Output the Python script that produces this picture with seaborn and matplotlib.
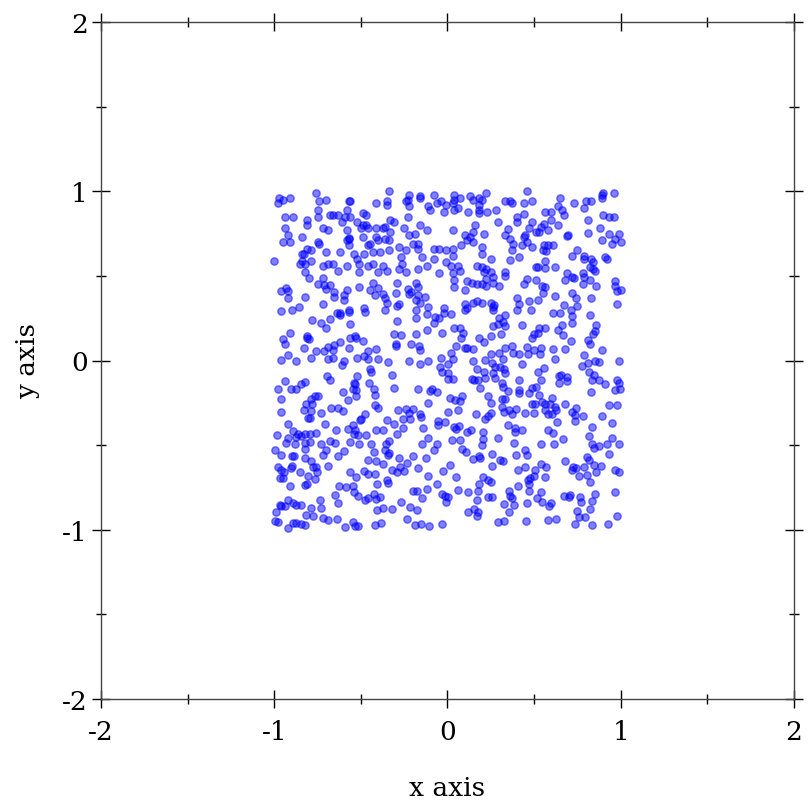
import matplotlib
matplotlib.use("Agg")
import matplotlib.pyplot as plt
import seaborn as sns
import pandas as pd

# point positions, grouped by region (top row -> bottom row)
pts_top_left = [
    (-0.76, 0.99), (-0.34, 1.00), (-0.97, 0.96), (-0.95, 0.95), (-0.91, 0.96), (-0.98, 0.93),
    (-0.74, 0.94), (-0.70, 0.95), (-0.56, 0.94), (-0.57, 0.94), (-0.41, 0.93), (-0.35, 0.94),
    (-0.35, 0.92), (-0.75, 0.89), (-0.58, 0.89), (-0.94, 0.85), (-0.89, 0.85), (-0.75, 0.85),
    (-0.68, 0.86), (-0.66, 0.86), (-0.63, 0.86), (-0.59, 0.85), (-0.56, 0.85), (-0.49, 0.87),
    (-0.47, 0.86), (-0.81, 0.83), (-0.81, 0.80), (-0.61, 0.82), (-0.52, 0.82), (-0.49, 0.80),
    (-0.47, 0.80), (-0.50, 0.78), (-0.46, 0.78), (-0.41, 0.78), (-0.37, 0.78), (-0.36, 0.79),
    (-0.94, 0.78), (-0.72, 0.78), (-0.69, 0.77), (-0.58, 0.77), (-0.92, 0.74), (-0.84, 0.73),
    (-0.95, 0.70), (-0.91, 0.70), (-0.75, 0.70), (-0.74, 0.69), (-0.57, 0.72), (-0.568, 0.726),
    (-0.58, 0.71), (-0.49, 0.73), (-0.41, 0.73), (-0.40, 0.71), (-0.36, 0.72), (-0.34, 0.71),
    (-0.45, 0.69), (-0.46, 0.68), (-0.57, 0.68), (-0.81, 0.66), (-0.84, 0.63), (-0.79, 0.65),
    (-0.83, 0.63), (-0.70, 0.64), (-0.62, 0.64), (-0.54, 0.63), (-0.48, 0.63), (-0.43, 0.64),
    (-0.39, 0.64), (-0.34, 0.65), (-1.00, 0.59), (-0.84, 0.59), (-0.85, 0.57), (-0.82, 0.57),
    (-0.79, 0.59), (-0.72, 0.56), (-0.69, 0.57), (-0.66, 0.57), (-0.58, 0.56), (-0.52, 0.60),
    (-0.51, 0.57), (-0.46, 0.56), (-0.43, 0.57), (-0.37, 0.56), (-0.63, 0.53), (-0.51, 0.52),
    (-0.40, 0.52), (-0.35, 0.53), (-0.82, 0.52),
]
pts_top_mid = [
    (-0.22, 0.98), (-0.23, 0.95), (-0.24, 0.94), (-0.22, 0.91), (-0.16, 0.97), (-0.16, 0.96),
    (-0.08, 0.98), (0.04, 0.98), (0.07, 0.96), (0.04, 0.95), (0.13, 0.97), (0.15, 0.95),
    (0.18, 0.96), (0.20, 0.95), (0.22, 0.99), (0.18, 0.92), (0.18, 0.89), (-0.11, 0.91),
    (-0.10, 0.89), (-0.06, 0.93), (-0.04, 0.94), (-0.01, 0.92), (-0.02, 0.88), (0.03, 0.93),
    (0.04, 0.89), (0.06, 0.90), (0.12, 0.88), (0.18, 0.87), (0.23, 0.88), (0.28, 0.89),
    (0.29, 0.82), (-0.33, 0.83), (-0.31, 0.82), (-0.23, 0.85), (-0.25, 0.78), (-0.22, 0.74),
    (-0.19, 0.75), (-0.16, 0.80), (-0.12, 0.77), (0.03, 0.77), (0.16, 0.80), (0.15, 0.76),
    (0.13, 0.73), (0.10, 0.74), (0.21, 0.75), (0.11, 0.71), (0.08, 0.68), (0.15, 0.70),
    (0.33, 0.74), (-0.33, 0.76), (-0.20, 0.69), (-0.17, 0.69), (-0.28, 0.67), (-0.24, 0.65),
    (-0.17, 0.66), (-0.08, 0.66), (-0.05, 0.66), (-0.01, 0.65), (0.03, 0.66), (0.03, 0.62),
    (0.20, 0.67), (0.20, 0.63), (-0.27, 0.61), (-0.26, 0.57), (-0.15, 0.61), (-0.08, 0.60),
    (-0.01, 0.58), (0.02, 0.56), (0.06, 0.56), (0.17, 0.56), (0.20, 0.55), (0.22, 0.54),
    (0.25, 0.60), (-0.28, 0.54), (-0.24, 0.52), (-0.17, 0.54), (-0.12, 0.56), (-0.05, 0.515),
    (0.03, 0.515), (0.07, 0.53), (0.21, 0.52), (0.25, 0.52), (0.33, 0.52), (0.33, 0.94),
]
pts_top_right = [
    (0.46, 1.00), (0.36, 0.94), (0.37, 0.93), (0.44, 0.93), (0.49, 0.94), (0.65, 0.96),
    (0.64, 0.91), (0.66, 0.89), (0.67, 0.86), (0.73, 0.93), (0.80, 0.94), (0.83, 0.94),
    (0.79, 0.90), (0.89, 0.98), (0.90, 0.99), (0.89, 0.96), (0.96, 0.99), (0.56, 0.88),
    (0.60, 0.875), (0.60, 0.83), (0.40, 0.85), (0.40, 0.82), (0.44, 0.866), (0.49, 0.82),
    (0.47, 0.78), (0.555, 0.805), (0.54, 0.79), (0.53, 0.76), (0.51, 0.76), (0.58, 0.77),
    (0.64, 0.80), (0.81, 0.83), (0.90, 0.86), (0.93, 0.85), (0.96, 0.85), (0.35, 0.775),
    (0.36, 0.72), (0.44, 0.73), (0.45, 0.74), (0.46, 0.70), (0.43, 0.68), (0.38, 0.69),
    (0.37, 0.65), (0.49, 0.67), (0.69, 0.737), (0.695, 0.74), (0.81, 0.755), (0.88, 0.78),
    (0.93, 0.75), (0.965, 0.72), (0.99, 0.75), (1.00, 0.70), (0.95, 0.69), (0.89, 0.71),
    (0.555, 0.68), (0.58, 0.68), (0.61, 0.68), (0.55, 0.653), (0.57, 0.647), (0.72, 0.62),
    (0.75, 0.65), (0.79, 0.62), (0.79, 0.60), (0.83, 0.60), (0.91, 0.61), (0.92, 0.60),
    (0.415, 0.61), (0.36, 0.594), (0.51, 0.555), (0.52, 0.55), (0.56, 0.588), (0.565, 0.545),
    (0.62, 0.555), (0.69, 0.515), (0.78, 0.515), (0.82, 0.55), (0.84, 0.58), (0.84, 0.54),
    (0.85, 0.53),
]
pts_upper_left = [
    (-0.80, 0.49), (-0.72, 0.49), (-0.96, 0.41), (-0.93, 0.43), (-0.92, 0.41), (-0.92, 0.37),
    (-0.82, 0.375), (-0.75, 0.45), (-0.71, 0.446), (-0.68, 0.446), (-0.70, 0.42), (-0.655, 0.407),
    (-0.655, 0.375), (-0.60, 0.387), (-0.58, 0.417), (-0.60, 0.355), (-0.51, 0.436), (-0.43, 0.456),
    (-0.45, 0.417), (-0.42, 0.387), (-0.40, 0.426), (-0.37, 0.391), (-0.36, 0.371), (-0.35, 0.342),
    (-0.96, 0.29), (-0.90, 0.298), (-0.86, 0.318), (-0.72, 0.332), (-0.64, 0.28), (-0.62, 0.267),
    (-0.62, 0.279), (-0.57, 0.296), (-0.568, 0.289), (-0.48, 0.308), (-0.474, 0.289), (-0.36, 0.298),
    (-0.78, 0.24), (-0.73, 0.224), (-0.68, 0.243), (-0.56, 0.218), (-0.70, 0.19), (-0.91, 0.164),
    (-0.95, 0.125), (-0.94, 0.099), (-0.81, 0.145), (-0.80, 0.125), (-0.81, 0.135), (-0.62, 0.11),
    (-0.657, 0.091), (-0.69, 0.08), (-0.565, 0.135), (-0.536, 0.145), (-0.53, 0.135), (-0.49, 0.115),
    (-0.83, 0.076), (-0.76, 0.056), (-0.71, 0.056), (-0.66, 0.06), (-0.57, 0.076), (-0.46, 0.056),
    (-0.41, 0.066), (-0.92, 0.03), (-0.96, 0.003), (-0.79, 0.013), (-0.52, 0.017), (-0.48, 0.027),
    (-0.46, 0.007), (-0.40, 0.007), (-0.60, 0.0), (-0.66, 0.013), (-0.69, 0.007),
]
pts_upper_mid = [
    (-0.29, 0.46), (-0.23, 0.42), (-0.22, 0.395), (-0.21, 0.407), (-0.18, 0.46), (-0.17, 0.434),
    (-0.17, 0.387), (-0.16, 0.342), (-0.18, 0.356), (-0.13, 0.375), (-0.30, 0.401), (-0.28, 0.336),
    (-0.29, 0.322), (0.04, 0.474), (0.04, 0.436), (0.10, 0.415), (0.11, 0.47), (0.14, 0.46),
    (0.17, 0.45), (0.20, 0.454), (0.22, 0.44), (0.22, 0.48), (0.26, 0.493), (0.26, 0.46),
    (0.30, 0.44), (0.33, 0.499), (-0.11, 0.316), (-0.12, 0.273), (-0.18, 0.296), (-0.18, 0.253),
    (-0.07, 0.257), (-0.05, 0.249), (-0.08, 0.224), (-0.02, 0.312), (-0.02, 0.279), (0.02, 0.273),
    (0.10, 0.332), (0.11, 0.312), (0.10, 0.296), (0.15, 0.342), (0.17, 0.352), (0.20, 0.342),
    (0.25, 0.342), (0.26, 0.316), (0.27, 0.326), (0.26, 0.296), (0.33, 0.269), (0.30, 0.249),
    (0.32, 0.23), (0.33, 0.204), (0.29, 0.214), (-0.29, 0.233), (-0.31, 0.155), (-0.27, 0.15),
    (-0.18, 0.155), (-0.12, 0.178), (-0.03, 0.16), (0.04, 0.194), (0.09, 0.16), (0.08, 0.135),
    (0.07, 0.194), (0.11, 0.076), (0.15, 0.066), (0.05, 0.086), (0.02, 0.046), (0.10, 0.072),
    (0.18, 0.135), (0.21, 0.11), (0.25, 0.145), (0.31, 0.155), (0.26, 0.204), (0.25, 0.04),
    (0.30, 0.046), (0.33, 0.076), (-0.30, 0.10), (-0.30, 0.086), (-0.21, 0.095), (-0.165, 0.086),
    (-0.16, 0.06), (-0.22, 0.0), (-0.11, 0.0), (-0.04, 0.013), (0.03, 0.007), (0.15, 0.0),
    (0.32, 0.007),
]
pts_upper_right = [
    (0.46, 0.48), (0.44, 0.454), (0.51, 0.474), (0.545, 0.44), (0.565, 0.434), (0.55, 0.401),
    (0.72, 0.493), (0.68, 0.474), (0.73, 0.49), (0.78, 0.454), (0.79, 0.493), (0.82, 0.474),
    (0.86, 0.44), (0.965, 0.47), (0.965, 0.44), (0.98, 0.41), (1.00, 0.415), (0.98, 0.336),
    (0.40, 0.367), (0.41, 0.332), (0.40, 0.30), (0.47, 0.352), (0.52, 0.356), (0.48, 0.30),
    (0.62, 0.381), (0.72, 0.401), (0.74, 0.367), (0.67, 0.328), (0.83, 0.371), (0.75, 0.322),
    (0.71, 0.296), (0.61, 0.283), (0.65, 0.283), (0.72, 0.263), (0.72, 0.224), (0.82, 0.267),
    (0.43, 0.21), (0.53, 0.194), (0.565, 0.19), (0.50, 0.159), (0.52, 0.164), (0.49, 0.135),
    (0.64, 0.18), (0.66, 0.21), (0.665, 0.15), (0.715, 0.115), (0.81, 0.119), (0.82, 0.10),
    (0.86, 0.21), (0.85, 0.174), (0.84, 0.155), (0.37, 0.086), (0.38, 0.046), (0.41, 0.04),
    (0.46, 0.08), (0.465, 0.04), (0.50, 0.06), (0.54, 0.076), (0.536, 0.036), (0.607, 0.066),
    (0.68, 0.07), (0.786, 0.032), (0.892, 0.06), (0.62, 0.007), (0.85, 0.0), (0.99, 0.0),
]
pts_lower_left = [
    (-0.343, -0.009), (-0.872, -0.003), (-0.694, -0.094), (-0.68, -0.113), (-0.61, -0.029),
    (-0.52, -0.092), (-0.54, -0.133), (-0.532, -0.141), (-0.545, -0.167), (-0.526, -0.176),
    (-0.526, -0.212), (-0.449, -0.052), (-0.44, -0.068), (-0.455, -0.133), (-0.424, -0.167),
    (-0.416, -0.206), (-0.936, -0.123), (-0.844, -0.137), (-0.82, -0.127), (-0.872, -0.167),
    (-0.905, -0.17), (-0.978, -0.17), (-0.959, -0.226), (-0.767, -0.212), (-0.747, -0.21),
    (-0.786, -0.226), (-0.815, -0.255), (-0.828, -0.29), (-0.78, -0.255), (-0.786, -0.298),
    (-0.67, -0.279), (-0.632, -0.279), (-0.603, -0.298), (-0.603, -0.186), (-0.574, -0.231),
    (-0.42, -0.265), (-0.401, -0.279), (-0.959, -0.304), (-0.728, -0.308), (-0.805, -0.338),
    (-0.795, -0.338), (-0.921, -0.373), (-0.892, -0.417), (-0.863, -0.432), (-0.872, -0.452),
    (-0.844, -0.448), (-0.824, -0.436), (-0.795, -0.432), (-0.757, -0.428), (-0.709, -0.377),
    (-0.642, -0.409), (-0.574, -0.403), (-0.545, -0.383), (-0.532, -0.409), (-0.54, -0.432),
    (-0.517, -0.442), (-0.468, -0.442), (-0.497, -0.344), (-0.507, -0.35), (-0.474, -0.314),
    (-0.411, -0.409), (-0.372, -0.413), (-0.347, -0.354), (-0.982, -0.442), (-0.921, -0.458),
    (-0.93, -0.488), (-0.882, -0.495), (-0.824, -0.488), (-0.795, -0.482), (-0.728, -0.495),
    (-0.68, -0.476), (-0.651, -0.488), (-0.565, -0.482), (-0.513, -0.492), (-0.44, -0.495),
    (-0.353, -0.495),
]
pts_lower_mid = [
    (-0.159, -0.019), (0.005, -0.019), (0.216, 0.001), (0.255, -0.015), (-0.322, -0.088),
    (-0.044, -0.038), (-0.034, -0.068), (0.005, -0.074), (0.005, -0.107), (0.033, -0.107),
    (0.168, -0.048), (0.212, -0.068), (0.274, -0.038), (0.264, -0.074), (0.303, -0.038),
    (0.328, -0.048), (0.332, -0.074), (0.139, -0.107), (0.155, -0.113), (0.178, -0.117),
    (0.216, -0.101), (0.274, -0.101), (0.312, -0.133), (0.322, -0.157), (0.187, -0.16),
    (-0.307, -0.163), (-0.172, -0.17), (-0.092, -0.17), (-0.101, -0.18), (-0.063, -0.186),
    (-0.111, -0.249), (0.014, -0.222), (0.043, -0.232), (0.082, -0.212), (0.072, -0.239),
    (0.232, -0.212), (0.251, -0.249), (0.312, -0.226), (0.332, -0.226), (0.312, -0.275),
    (0.328, -0.304), (-0.284, -0.29), (-0.242, -0.285), (-0.197, -0.289), (-0.255, -0.344),
    (-0.222, -0.31), (-0.217, -0.344), (-0.159, -0.318), (-0.153, -0.334), (0.005, -0.304),
    (0.062, -0.294), (0.162, -0.314), (0.251, -0.31), (0.216, -0.344), (0.235, -0.33),
    (-0.307, -0.373), (-0.255, -0.397), (-0.14, -0.397), (-0.053, -0.358), (-0.015, -0.364),
    (-0.053, -0.383), (0.039, -0.393), (0.047, -0.403), (0.066, -0.387), (0.11, -0.423),
    (0.135, -0.413), (0.207, -0.423), (-0.294, -0.436), (-0.338, -0.476), (-0.115, -0.456),
    (-0.063, -0.492), (0.024, -0.472), (0.072, -0.472), (0.207, -0.462), (0.293, -0.456),
    (-0.149, -0.495), (0.201, -0.501),
]
pts_lower_right = [
    (0.43, -0.019), (0.776, -0.034), (0.811, -0.015), (0.876, -0.009), (0.522, -0.068),
    (0.555, -0.042), (0.41, -0.113), (0.542, -0.113), (0.642, -0.092), (0.657, -0.088),
    (0.69, -0.098), (0.642, -0.133), (0.69, -0.121), (0.819, -0.068), (0.844, -0.088),
    (0.834, -0.113), (0.872, -0.113), (0.911, -0.137), (0.978, -0.117), (0.988, -0.133),
    (0.998, -0.167), (0.969, -0.176), (0.83, -0.186), (0.349, -0.18), (0.41, -0.176),
    (0.415, -0.192), (0.488, -0.161), (0.511, -0.157), (0.526, -0.206), (0.468, -0.192),
    (0.488, -0.255), (0.507, -0.259), (0.545, -0.245), (0.565, -0.255), (0.603, -0.22),
    (0.594, -0.255), (0.565, -0.29), (0.58, -0.318), (0.603, -0.318), (0.626, -0.294),
    (0.622, -0.275), (0.676, -0.259), (0.719, -0.304), (0.742, -0.279), (0.738, -0.324),
    (0.78, -0.33), (0.738, -0.357), (0.632, -0.364), (0.353, -0.29), (0.395, -0.285),
    (0.372, -0.318), (0.449, -0.31), (0.497, -0.31), (0.93, -0.261), (0.978, -0.261),
    (0.892, -0.33), (0.95, -0.369), (0.349, -0.379), (0.392, -0.397), (0.43, -0.413),
    (0.392, -0.423), (0.58, -0.409), (0.609, -0.428), (0.834, -0.393), (0.819, -0.446),
    (0.95, -0.456), (0.988, -0.495), (0.667, -0.462), (0.382, -0.488), (0.542, -0.495),
    (0.613, -0.495), (0.834, -0.495), (0.92, -0.495),
]
pts_bottom_left = [
    (-0.998, -0.527), (-0.824, -0.523), (-0.699, -0.527), (-0.424, -0.543), (-0.363, -0.531),
    (-0.34, -0.546), (-0.959, -0.56), (-0.897, -0.562), (-0.886, -0.566), (-0.824, -0.576),
    (-0.719, -0.556), (-0.632, -0.562), (-0.597, -0.537), (-0.459, -0.586), (-0.411, -0.596),
    (-0.372, -0.61), (-0.343, -0.556), (-0.978, -0.629), (-0.959, -0.645), (-0.944, -0.661),
    (-0.969, -0.694), (-0.949, -0.694), (-0.897, -0.625), (-0.905, -0.635), (-0.853, -0.661),
    (-0.786, -0.596), (-0.776, -0.629), (-0.757, -0.629), (-0.751, -0.661), (-0.69, -0.621),
    (-0.805, -0.684), (-0.767, -0.7), (-0.824, -0.734), (-0.809, -0.728), (-0.911, -0.744),
    (-0.565, -0.661), (-0.526, -0.69), (-0.482, -0.655), (-0.459, -0.669), (-0.416, -0.669),
    (-0.405, -0.728), (-0.347, -0.704), (-0.343, -0.724), (-0.626, -0.74), (-0.588, -0.75),
    (-0.545, -0.74), (-0.54, -0.779), (-0.517, -0.803), (-0.478, -0.822), (-0.459, -0.812),
    (-0.424, -0.787), (-0.411, -0.818), (-0.391, -0.807), (-0.651, -0.793), (-0.632, -0.842),
    (-0.738, -0.822), (-0.728, -0.872), (-0.969, -0.852), (-0.959, -0.862), (-0.94, -0.858),
    (-0.921, -0.826), (-0.892, -0.842), (-0.872, -0.852), (-0.847, -0.852), (-0.988, -0.897),
    (-0.786, -0.872), (-0.815, -0.911), (-0.776, -0.917), (-0.719, -0.931), (-0.69, -0.941),
    (-0.636, -0.935), (-0.593, -0.986), (-0.545, -0.956), (-0.536, -0.976), (-0.517, -0.98),
    (-0.416, -0.97), (-0.386, -0.96), (-0.372, -0.872), (-0.405, -0.881), (-0.998, -0.95),
    (-0.978, -0.956), (-0.892, -0.96), (-0.872, -0.96), (-0.844, -0.964), (-0.921, -0.99),
    (-0.82, -0.97),
]
pts_bottom_mid = [
    (-0.28, -0.576), (-0.236, -0.606), (-0.197, -0.562), (-0.169, -0.635), (-0.124, -0.576),
    (-0.076, -0.531), (0.014, -0.615), (-0.024, -0.655), (0.085, -0.523), (0.105, -0.543),
    (0.149, -0.582), (0.184, -0.562), (0.187, -0.576), (0.259, -0.551), (0.259, -0.621),
    (0.303, -0.59), (0.322, -0.596), (-0.274, -0.629), (-0.319, -0.649), (-0.294, -0.661),
    (-0.249, -0.655), (-0.111, -0.684), (-0.063, -0.728), (0.049, -0.69), (-0.197, -0.773),
    (-0.178, -0.773), (-0.12, -0.759), (-0.149, -0.812), (-0.034, -0.787), (-0.015, -0.799),
    (0.005, -0.807), (-0.009, -0.838), (0.058, -0.767), (0.12, -0.779), (0.184, -0.728),
    (0.207, -0.69), (0.235, -0.704), (0.251, -0.72), (0.174, -0.773), (0.235, -0.807),
    (0.255, -0.807), (0.168, -0.826), (0.328, -0.846), (-0.269, -0.836), (-0.217, -0.868),
    (-0.178, -0.881), (-0.322, -0.877), (0.155, -0.877), (0.12, -0.895), (0.178, -0.895),
    (0.168, -0.917), (-0.236, -0.936), (-0.188, -0.97), (-0.153, -0.964), (-0.107, -0.976),
    (-0.03, -0.966), (0.293, -0.954), (0.328, -0.95),
]
pts_bottom_right = [
    (0.449, -0.527), (0.459, -0.556), (0.844, -0.517), (0.872, -0.507), (0.93, -0.551),
    (0.395, -0.556), (0.68, -0.596), (0.805, -0.572), (0.819, -0.586), (0.844, -0.615),
    (0.886, -0.621), (0.722, -0.629), (0.742, -0.635), (0.719, -0.649), (0.786, -0.629),
    (0.805, -0.675), (0.857, -0.661), (0.761, -0.684), (0.824, -0.72), (0.969, -0.645),
    (0.988, -0.661), (0.407, -0.649), (0.449, -0.629), (0.507, -0.649), (0.497, -0.68),
    (0.478, -0.694), (0.465, -0.704), (0.468, -0.728), (0.565, -0.688), (0.542, -0.61),
    (0.569, -0.629), (0.468, -0.773), (0.459, -0.842), (0.407, -0.744), (0.357, -0.769),
    (0.363, -0.803), (0.372, -0.812), (0.382, -0.852), (0.517, -0.812), (0.542, -0.779),
    (0.545, -0.838), (0.599, -0.842), (0.584, -0.862), (0.67, -0.803), (0.709, -0.793),
    (0.7, -0.807), (0.767, -0.809), (0.772, -0.838), (0.853, -0.789), (0.834, -0.832),
    (0.824, -0.877), (0.965, -0.779), (0.357, -0.897), (0.453, -0.95), (0.58, -0.94),
    (0.626, -0.936), (0.747, -0.891), (0.757, -0.925), (0.792, -0.925), (0.734, -0.964),
    (0.834, -0.97), (0.926, -0.966), (0.978, -0.921),
]

groups = [pts_top_left, pts_top_mid, pts_top_right,
          pts_upper_left, pts_upper_mid, pts_upper_right,
          pts_lower_left, pts_lower_mid, pts_lower_right,
          pts_bottom_left, pts_bottom_mid, pts_bottom_right]
df = pd.DataFrame([p for g in groups for p in g], columns=["x", "y"])

tick_vals = [-2, -1, 0, 1, 2]
tick_labels = ["-2", "-1", "0", "1", "2"]
minor_vals = [-1.5, -0.5, 0.5, 1.5]

sns.set_style("white")
plt.rcParams["font.family"] = ["DejaVu Serif"]
plt.rcParams["axes.unicode_minus"] = False
plt.rcParams["text.color"] = "black"
plt.rcParams["axes.labelcolor"] = "black"
plt.rcParams["xtick.color"] = "black"
plt.rcParams["ytick.color"] = "black"

fig = plt.figure(figsize=(8.12, 8.12), dpi=100)
ax = fig.add_axes([101 / 812, 1 - 700 / 812, 693 / 812, 677 / 812])

sns.scatterplot(data=df, x="x", y="y", ax=ax, s=28, color=(0, 0, 1, 0.5),
                edgecolor=(0, 0, 1, 0.5), linewidth=1.0, legend=False)

ax.set_xlim(-2, 2)
ax.set_ylim(-2, 2)
ax.set_xticks(tick_vals)
ax.set_xticklabels(tick_labels)
ax.set_yticks(tick_vals)
ax.set_yticklabels(tick_labels)
ax.set_xticks(minor_vals, minor=True)
ax.set_yticks(minor_vals, minor=True)
ax.tick_params(which="major", direction="inout", length=13, width=1, colors="black",
               bottom=True, left=True, top=True, right=True, labelsize=19, pad=3)
ax.tick_params(axis="x", which="major", pad=8)
ax.tick_params(which="minor", direction="inout", length=7, width=1, colors="black",
               bottom=True, left=True, top=True, right=True)
for sp in ax.spines.values():
    sp.set_color("#444444")
    sp.set_linewidth(1)

ax.set_xlabel("x axis", fontsize=19, labelpad=22)
ax.set_ylabel("y axis", fontsize=19, labelpad=16)

fig.savefig("out.png", dpi=100)
